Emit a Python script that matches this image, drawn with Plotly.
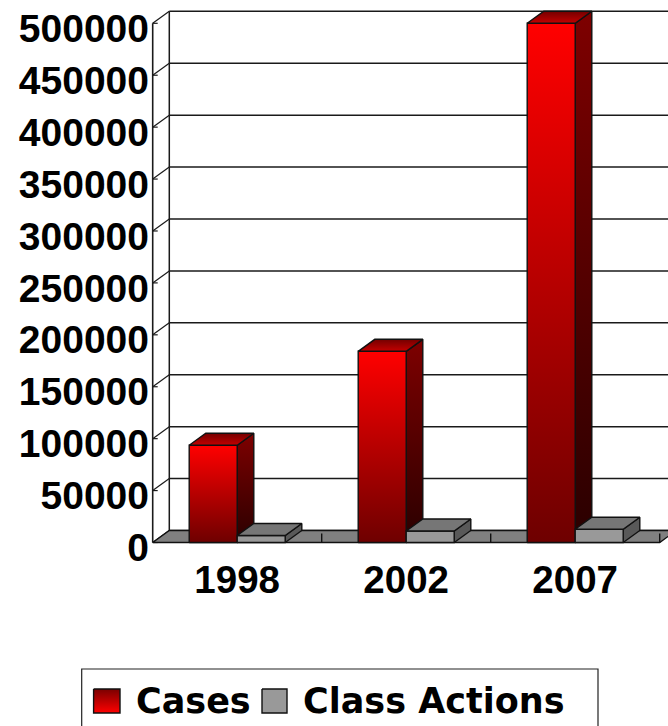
import plotly.graph_objects as go

# ---------------- data ----------------
years = ["1998", "2002", "2007"]
cases = [93649, 184116, 500000]
class_actions = [6767, 11024, 12784]
y_tick_values = list(range(0, 500001, 50000))
series_names = ["Cases", "Class Actions"]

# ---------------- geometry (styling) ----------------
W, H = 668, 726
PLOT_L, PLOT_R, PLOT_T, PLOT_B = 150, 668, 0, 545
AXIS_X_PX = 152.7          # pixel of x = 0 (front left axis)
PX_PER_CAT = 169.0
ZERO_PX = 542.5            # pixel of value 0 on the front plane
PX_PER_VAL = 519.2 / 500000

x0 = -(AXIS_X_PX - PLOT_L) / PX_PER_CAT
x1 = x0 + (PLOT_R - PLOT_L) / PX_PER_CAT
v0 = -(PLOT_B - ZERO_PX) / PX_PER_VAL
v1 = v0 + (PLOT_B - PLOT_T) / PX_PER_VAL

DX = 16.6 / PX_PER_CAT     # depth offset in x units
DV = 12.0 / PX_PER_VAL     # depth offset in value units
BAR_W = 48.0 / PX_PER_CAT
N = len(years)
OUTLINE = "#111111"
AXFONT = "Liberation Sans"
LEGFONT = "DejaVu Sans"

fig = go.Figure()


def face(pts, color=None, scale=None, width=1.4):
    xs = [p[0] for p in pts] + [pts[0][0]]
    ys = [p[1] for p in pts] + [pts[0][1]]
    kw = dict(x=xs, y=ys, mode="lines", fill="toself",
              line=dict(color=OUTLINE, width=width),
              hoverinfo="skip", showlegend=False, xaxis="x", yaxis="y")
    if scale is not None:
        kw["fillgradient"] = dict(type="vertical", colorscale=scale)
        kw["fillcolor"] = scale[-1][1]
    else:
        kw["fillcolor"] = color
    fig.add_trace(go.Scatter(**kw))


# floor
face([(0, 0), (N, 0), (N + DX, DV), (DX, DV)], color="#808080")

shapes = []
# back wall gridlines
for v in y_tick_values:
    shapes.append(dict(type="line", xref="x", yref="y", x0=DX, x1=N + DX,
                       y0=v + DV, y1=v + DV, layer="below",
                       line=dict(color="#1a1a1a", width=1.5)))
    # left wall diagonals
    shapes.append(dict(type="line", xref="x", yref="y", x0=0, x1=DX,
                       y0=v, y1=v + DV, layer="below",
                       line=dict(color="#1a1a1a", width=1.2)))
    # small ticks on the front axis
    shapes.append(dict(type="line", xref="x", yref="y", x0=0, x1=5 / PX_PER_CAT,
                       y0=v, y1=v, layer="below",
                       line=dict(color="#1a1a1a", width=1.2)))
# back wall left edge and front axis line
shapes.append(dict(type="line", xref="x", yref="y", x0=DX, x1=DX,
                   y0=DV, y1=y_tick_values[-1] + DV, layer="below",
                   line=dict(color="#1a1a1a", width=1.5)))
shapes.append(dict(type="line", xref="x", yref="y", x0=0, x1=0,
                   y0=0, y1=y_tick_values[-1], layer="below",
                   line=dict(color="#1a1a1a", width=1.6)))

# bars
red_front = [[0, "#6e0000"], [1, "#ff0000"]]
red_side = [[0, "#2a0000"], [1, "#7e0000"]]
red_top = [[0, "#c40000"], [1, "#740000"]]

for i in range(N):
    c = i + 0.5
    for s, (vals, kind) in enumerate([(cases, "red"), (class_actions, "gray")]):
        v = vals[i]
        xl = c - BAR_W if s == 0 else c
        xr = xl + BAR_W
        front = [(xl, 0), (xr, 0), (xr, v), (xl, v)]
        side = [(xr, 0), (xr + DX, DV), (xr + DX, v + DV), (xr, v)]
        top = [(xl, v), (xr, v), (xr + DX, v + DV), (xl + DX, v + DV)]
        if kind == "red":
            face(side, scale=red_side)
            face(front, scale=red_front)
            face(top, scale=red_top)
        else:
            face(side, color="#595959")
            face(front, color="#999999")
            face(top, color="#767676")

# floor tick marks at category boundaries (drawn on top of floor)
for k in range(1, N + 1):
    fig.add_trace(go.Scatter(x=[k, k], y=[0, 9 / PX_PER_VAL], mode="lines",
                             line=dict(color=OUTLINE, width=1.4),
                             hoverinfo="skip", showlegend=False))

# ---------------- legend (manual) ----------------
LEG_Y0, LEG_Y1 = 646, 726
fig.add_trace(go.Scatter(
    x=[93.6, 120, 120, 93.6, 93.6], y=[689, 689, 713, 713, 689],
    mode="lines", fill="toself", xaxis="x2", yaxis="y2",
    fillgradient=dict(type="vertical", colorscale=[[0, "#ff0000"], [1, "#7a0000"]]),
    line=dict(color=OUTLINE, width=1.4), hoverinfo="skip", showlegend=False))
fig.add_trace(go.Scatter(
    x=[262, 287, 287, 262, 262], y=[689, 689, 713, 713, 689],
    mode="lines", fill="toself", xaxis="x2", yaxis="y2", fillcolor="#999999",
    line=dict(color=OUTLINE, width=1.4), hoverinfo="skip", showlegend=False))

shapes.append(dict(type="rect", xref="paper", yref="paper",
                   x0=81.7 / W, x1=598 / W, y0=1 - 669 / H, y1=-0.05,
                   line=dict(color="#222222", width=1.2), fillcolor="white",
                   layer="below"))

annotations = [
    dict(text=series_names[0], x=134 / W, y=1 - 701 / H, xref="paper", yref="paper",
         xanchor="left", yanchor="middle", showarrow=False,
         font=dict(family=LEGFONT, size=35, color="black", weight="bold")),
    dict(text=series_names[1], x=301 / W, y=1 - 701 / H, xref="paper", yref="paper",
         xanchor="left", yanchor="middle", showarrow=False,
         font=dict(family=LEGFONT, size=35, color="black", weight="bold")),
]

fig.update_layout(
    width=W, height=H,
    margin=dict(l=0, r=0, t=0, b=0, autoexpand=False),
    paper_bgcolor="white", plot_bgcolor="rgba(0,0,0,0)",
    shapes=shapes, annotations=annotations, showlegend=False,
    xaxis=dict(domain=[PLOT_L / W, PLOT_R / W], range=[x0, x1],
               tickvals=[i + 0.5 for i in range(N)], ticktext=years,
               showgrid=False, zeroline=False, showline=False, ticks="",
               ticklabelstandoff=8,
               tickfont=dict(family=AXFONT, size=38.5, color="black", weight="bold")),
    yaxis=dict(domain=[1 - PLOT_B / H, 1 - PLOT_T / H], range=[v0, v1],
               tickvals=y_tick_values, tickformat="d",
               showgrid=False, zeroline=False, showline=False, ticks="",
               ticklabelshift=5, ticklabeloverflow="allow",
               tickfont=dict(family=AXFONT, size=39, color="black", weight="bold")),
    xaxis2=dict(domain=[0, 1], range=[0, W], visible=False, anchor="y2"),
    yaxis2=dict(domain=[0, (LEG_Y1 - LEG_Y0) / H], range=[LEG_Y1, LEG_Y0],
                visible=False, anchor="x2"),
)

fig.write_html("out.html")
